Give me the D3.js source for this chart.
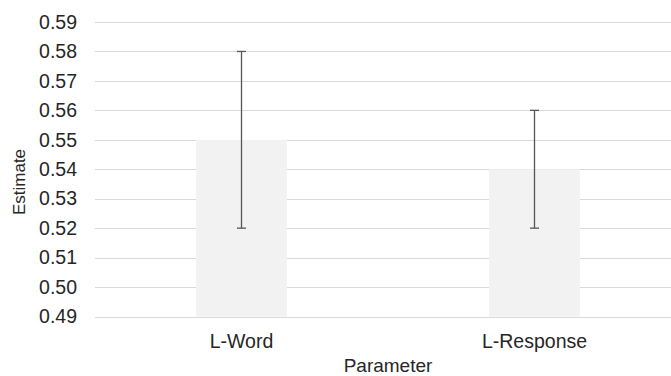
<!DOCTYPE html>
<html>
<head>
<meta charset="utf-8">
<script src="https://cdn.jsdelivr.net/npm/d3@7"></script>
<style>
  body { margin: 0; background: #fff; }
  svg { display: block; font-family: "Liberation Sans", Arial, sans-serif; }
</style>
</head>
<body>
<svg width="671" height="376"></svg>
<script>
var width = 671, height = 376;

// data
var categories = ["L-Word", "L-Response"];
var estimates = [0.55, 0.54];
var lower = [0.52, 0.52];
var upper = [0.58, 0.56];
var yTicks = [0.49, 0.50, 0.51, 0.52, 0.53, 0.54, 0.55, 0.56, 0.57, 0.58, 0.59];

var data = categories.map(function(c, i) {
  return { name: c, value: estimates[i], lo: lower[i], hi: upper[i] };
});

var svg = d3.select("svg");

var x = d3.scaleBand()
  .domain(categories)
  .range([95, 681])
  .paddingInner(0.69)
  .paddingOuter(0.345);

var y = d3.scaleLinear()
  .domain([0.49, 0.59])
  .range([316.5, 22]);

// gridlines
svg.append("g")
  .selectAll("line")
  .data(yTicks)
  .enter()
  .append("line")
  .attr("x1", 95)
  .attr("x2", width)
  .attr("y1", function(d) { return Math.round(y(d)) + 0.5; })
  .attr("y2", function(d) { return Math.round(y(d)) + 0.5; })
  .attr("stroke", "#d9d9d9")
  .attr("stroke-width", 1);

// y axis labels
var yAxis = svg.append("g")
  .attr("transform", "translate(95,0)")
  .call(d3.axisLeft(y)
    .tickValues(yTicks)
    .tickFormat(d3.format(".2f"))
    .tickSize(0)
    .tickPadding(18));
yAxis.select(".domain").remove();
yAxis.selectAll("text")
  .attr("font-size", 19.5)
  .attr("font-family", "Liberation Sans, Arial, sans-serif")
  .attr("fill", "#262626");

// bars
svg.append("g")
  .selectAll("rect")
  .data(data)
  .enter()
  .append("rect")
  .attr("x", function(d) { return x(d.name); })
  .attr("width", x.bandwidth())
  .attr("y", function(d) { return y(d.value); })
  .attr("height", function(d) { return y(0.49) - y(d.value); })
  .attr("fill", "#f2f2f2");

// error bars
var err = svg.append("g")
  .attr("stroke", "#555")
  .attr("stroke-width", 1.3);

err.selectAll(".stem")
  .data(data)
  .enter()
  .append("line")
  .attr("class", "stem")
  .attr("x1", function(d) { return x(d.name) + x.bandwidth() / 2; })
  .attr("x2", function(d) { return x(d.name) + x.bandwidth() / 2; })
  .attr("y1", function(d) { return y(d.hi); })
  .attr("y2", function(d) { return y(d.lo); });

err.selectAll(".cap-hi")
  .data(data)
  .enter()
  .append("line")
  .attr("x1", function(d) { return x(d.name) + x.bandwidth() / 2 - 4.5; })
  .attr("x2", function(d) { return x(d.name) + x.bandwidth() / 2 + 4.5; })
  .attr("y1", function(d) { return y(d.hi); })
  .attr("y2", function(d) { return y(d.hi); });

err.selectAll(".cap-lo")
  .data(data)
  .enter()
  .append("line")
  .attr("x1", function(d) { return x(d.name) + x.bandwidth() / 2 - 4.5; })
  .attr("x2", function(d) { return x(d.name) + x.bandwidth() / 2 + 4.5; })
  .attr("y1", function(d) { return y(d.lo); })
  .attr("y2", function(d) { return y(d.lo); });

// x labels
svg.append("g")
  .selectAll("text")
  .data(categories)
  .enter()
  .append("text")
  .attr("x", function(d) { return x(d) + x.bandwidth() / 2; })
  .attr("y", 348)
  .attr("text-anchor", "middle")
  .attr("font-size", 19.5)
  .attr("fill", "#262626")
  .text(function(d) { return d; });

// axis titles
svg.append("text")
  .attr("x", 388)
  .attr("y", 372)
  .attr("text-anchor", "middle")
  .attr("font-size", 19)
  .attr("fill", "#262626")
  .text("Parameter");

svg.append("text")
  .attr("transform", "translate(25,182) rotate(-90)")
  .attr("text-anchor", "middle")
  .attr("font-size", 17)
  .attr("fill", "#262626")
  .text("Estimate");
</script>
</body>
</html>
